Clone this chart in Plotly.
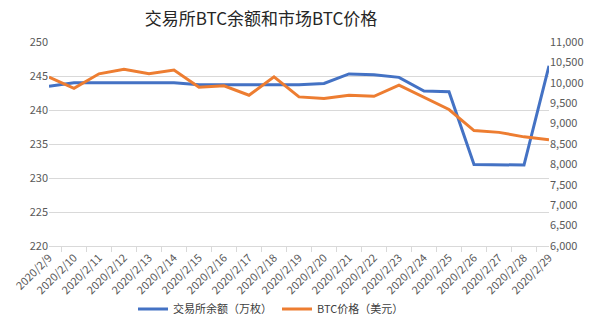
import plotly.graph_objects as go

# Daily dates shown on the category axis
dates = ["2020/2/%d" % d for d in range(9, 30)]

# Exchange BTC balance (10k coins), left axis
exchange_balance = [243.5, 244.0, 244.0, 244.0, 244.0, 244.0, 243.7, 243.7, 243.7,
                    243.7, 243.7, 243.9, 245.3, 245.2, 244.8, 242.8, 242.7, 232.0,
                    231.9, 231.9, 246.5]

# BTC market price (USD), right axis
btc_price = [10140, 9865, 10220, 10330, 10225, 10315, 9890, 9925, 9695, 10145, 9655,
             9615, 9695, 9670, 9940, 9640, 9345, 8830, 8785, 8675, 8605]

BLUE = "#4472C4"
ORANGE = "#ED7D31"
TICK_FONT = dict(family="Noto Sans CJK SC, sans-serif", size=11, color="#595959")

fig = go.Figure()
fig.add_trace(go.Scatter(
    x=dates, y=exchange_balance, name="交易所余额（万枚）",
    mode="lines", line=dict(color=BLUE, width=3), yaxis="y",
))
fig.add_trace(go.Scatter(
    x=dates, y=btc_price, name="BTC价格（美元）",
    mode="lines", line=dict(color=ORANGE, width=3), yaxis="y2",
))

fig.update_layout(
    width=600, height=335,
    margin=dict(l=31, r=51, t=42, b=78),
    paper_bgcolor="white", plot_bgcolor="white",
    title=dict(
        text="交易所BTC余额和市场BTC价格",
        x=261 / 600, xanchor="center", y=1 - 19 / 335, yanchor="middle",
        font=dict(family="Noto Sans CJK SC, sans-serif", size=17, color="#262626"),
    ),
    xaxis=dict(
        type="category", tickangle=-45, tickfont=TICK_FONT,
        showgrid=False, showline=True, linecolor="#D9D9D9", linewidth=1,
        ticks="outside", ticklen=5, tickcolor="#D9D9D9", tickson="boundaries",
    ),
    yaxis=dict(
        range=[220, 250], dtick=5, tickfont=TICK_FONT,
        showgrid=True, gridcolor="#D9D9D9", gridwidth=1, zeroline=False,
        showline=False, ticks="",
    ),
    yaxis2=dict(
        range=[6000, 11000], dtick=500, tickformat=",d", tickfont=TICK_FONT,
        overlaying="y", side="right", showgrid=False, zeroline=False,
        showline=False, ticks="",
    ),
    legend=dict(
        orientation="h", x=(261 - 31) / 518, xanchor="center",
        y=-(323 - 256.7) / 214.4, yanchor="middle",
        font=dict(family="Noto Sans CJK SC, sans-serif", size=11, color="#404040"),
        itemwidth=30, bgcolor="rgba(0,0,0,0)",
    ),
    showlegend=True,
)

fig.write_html("out.html")
